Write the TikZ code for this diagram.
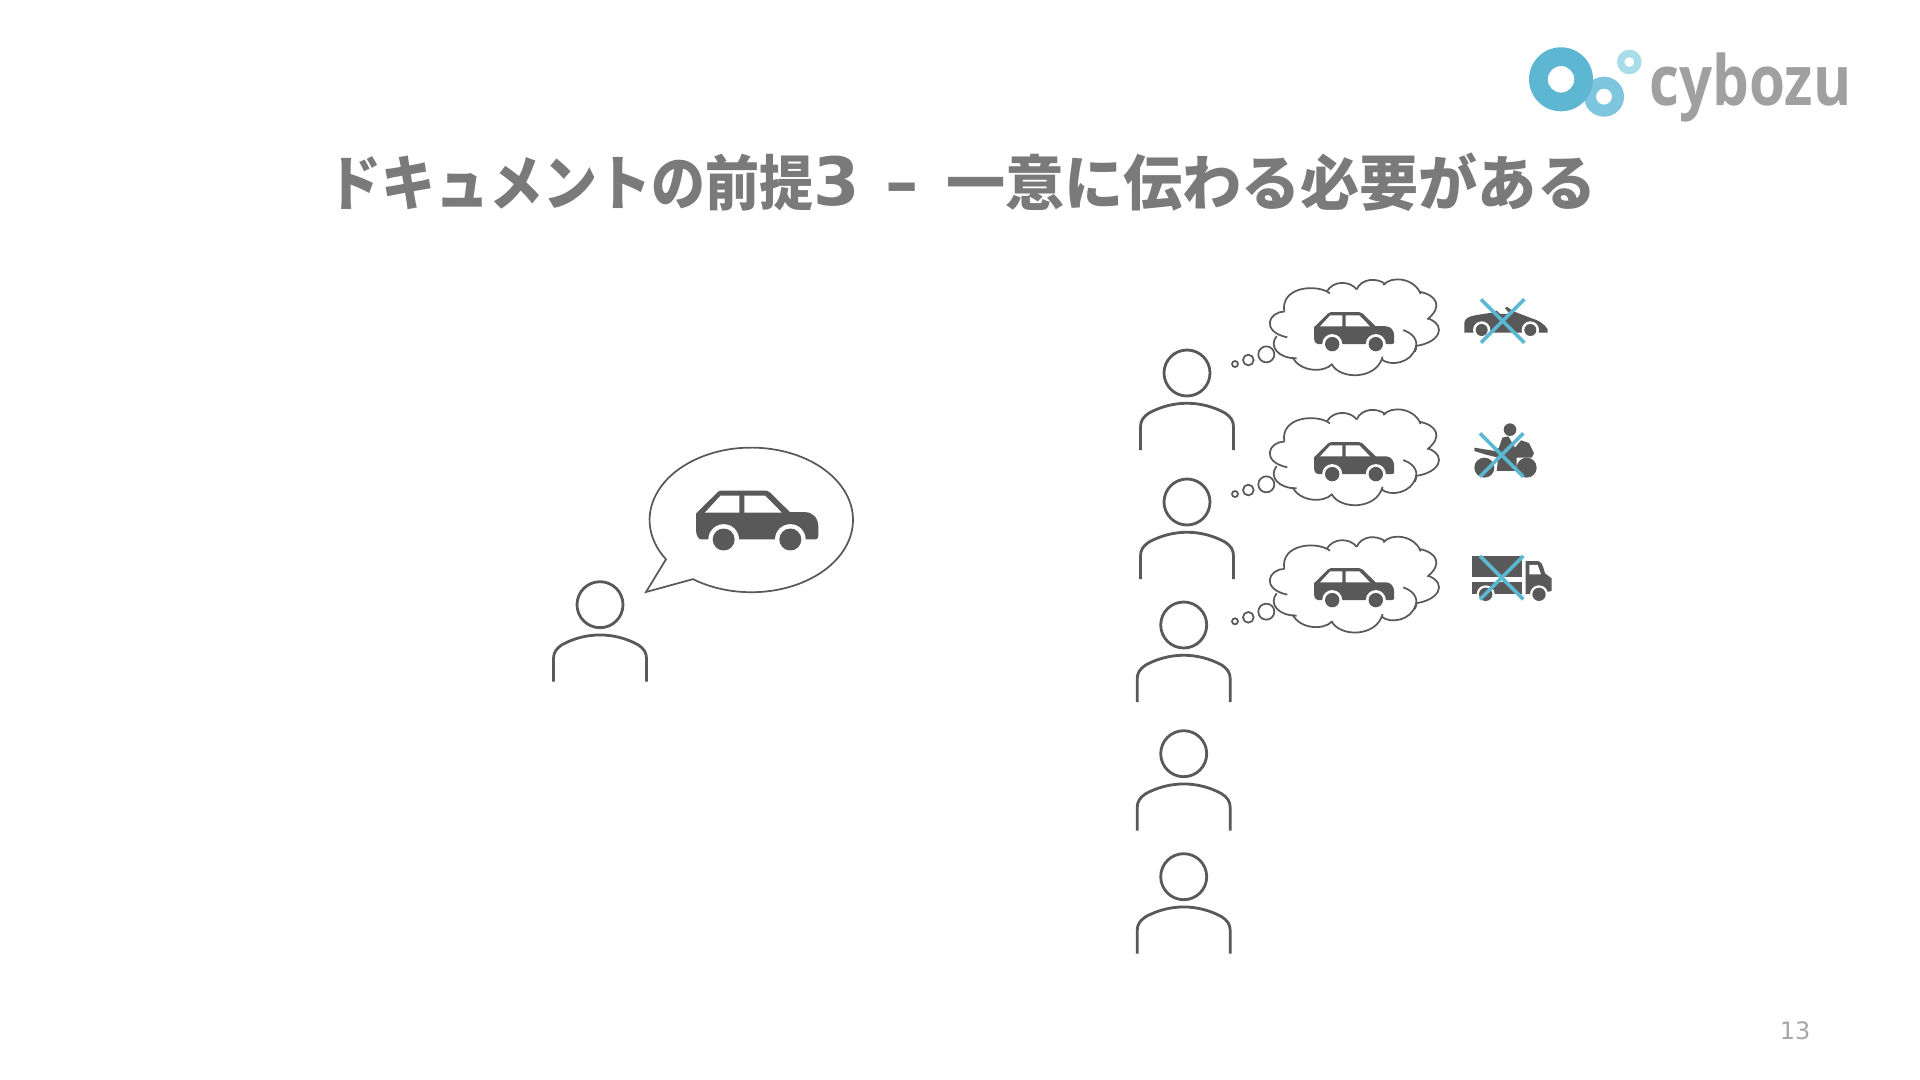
\documentclass[tikz,border=0pt]{standalone}
\usepackage{fontspec}
\newfontfamily\titlefont{Noto Sans CJK JP Black}
\newfontfamily\latinfont{DejaVu Sans Bold}
\newfontfamily\logofont{Open Sans}
\newfontfamily\pagefont{DejaVu Sans}
\definecolor{icongray}{HTML}{595959}
\definecolor{titlegray}{HTML}{7A7A7A}
\definecolor{logogray}{HTML}{A0A0A0}
\definecolor{numgray}{HTML}{A6A6A6}
\definecolor{ringA}{HTML}{5DB7D3}
\definecolor{ringB}{HTML}{7EC5DE}
\definecolor{ringC}{HTML}{A8DCE9}
\definecolor{crossblue}{HTML}{5BB8D2}
\begin{document}
\begin{tikzpicture}[
x=0.75pt, y=-0.75pt,% one unit is one pixel, y runs down
   outline/.style = {draw=icongray, line width=1.3pt},
      cross/.style = {draw=crossblue, line width=2.7pt},
     person/.pic = {
        \draw [draw=icongray, line width=2.1pt] (0,0) circle [radius=23];
        \draw [draw=icongray, line width=2.1pt] (-46.5,77) -- (-46.5,54)
              .. controls (-46.5,48) and (-44,44) .. (-38,40)
              .. controls (-14,27) and (14,27) .. (38,40)
              .. controls (44,44) and (46.5,48) .. (46.5,54) -- (46.5,77);
                   },
        car/.pic = {
        \begin{scope}[shift={(-711,-271)}]
        \fill [icongray] (528,250) -- (592,187) .. controls (596,183) and (600,181) .. (606,181)
              -- (734,181) .. controls (740,181) and (745,183) .. (750,187) -- (810,246)
              -- (855,246) .. controls (880,246) and (895,265) .. (895,290) -- (895,318)
              .. controls (895,325) and (890,328) .. (885,328) -- (545,328)
              .. controls (535,328) and (528,315) .. (528,300) -- cycle;
        \fill [white] (555,247) -- (602,196) -- (658,196) -- (658,247) -- cycle;
        \fill [white] (673,196) -- (735,196) -- (785,247) -- (673,247) -- cycle;
        \foreach \wx in {611,811} {
          \fill [white] (\wx,328) circle [radius=46];
          \fill [icongray] (\wx,328) circle [radius=33];
        }
        \end{scope}
                },
      cloud/.pic = {
        \begin{scope}[scale=0.3333, shift={(-760,-200)}]
        \draw [outline] (553,155) .. controls (505,155) and (482,215) .. (562,232);
        \draw [outline] (530,228) .. controls (505,260) and (535,295) .. (590,295);
        \draw [outline] (578,292) .. controls (600,335) and (670,340) .. (697,312);
        \draw [outline] (695,312) .. controls (720,360) and (830,360) .. (848,290);
        \draw [outline] (845,298) .. controls (870,320) and (935,310) .. (947,262);
        \draw [outline] (910,210) .. controls (950,225) and (955,250) .. (945,275);
        \draw [outline] (945,258) .. controls (1015,250) and (1045,200) .. (985,175);
        \draw [outline] (982,178) .. controls (1030,140) and (1010,105) .. (958,95);
        \draw [outline] (962,102) .. controls (945,55) and (875,45) .. (850,75);
        \draw [outline] (856,72) .. controls (830,52) and (785,55) .. (770,88);
        \draw [outline] (770,88) .. controls (750,62) and (700,60) .. (680,95);
        \draw [outline] (690,100) .. controls (650,70) and (540,80) .. (553,155);
        \draw [outline, fill=white] (499,283) circle [radius=24];
        \draw [outline, fill=white] (445,300) circle [radius=16];
        \draw [outline, fill=white] (405,312) circle [radius=9];
        \end{scope}
                  }
                        ]
\useasboundingbox (0,0) rectangle (1920,1080);
\fill [white] (0,0) rectangle (1920,1080);
% logo
\fill [ringB, even odd rule] (1604,96.7) circle [radius=20] (1604,96.7) circle [radius=8];
\fill [ringA, even odd rule] (1561,79.3) circle [radius=32] (1561,79.3) circle [radius=13.3];
\fill [ringC, even odd rule] (1629.3,62) circle [radius=12.3] (1629.3,62) circle [radius=5];
\node (logo) [anchor=base west, inner sep=0pt, transform shape, xscale=0.84, text=logogray,
              font=\logofont\bfseries\fontsize{52}{60}\selectfont] at (1649,106) {cybozu};
% title
\node (title) [anchor=base west, inner sep=0pt, text=titlegray,
               font=\titlefont\fontsize{45}{54}\selectfont] at (327,206)
               {\scalebox{0.9}[1]{ドキュメントの前提}{\latinfont\fontsize{50}{54}\selectfont 3\hspace{2pt} – \hspace{3pt}}\scalebox{0.985}[1]{一意に伝わる必要がある}};
\node (pagenum) [inner sep=0pt, text=numgray,
                 font=\pagefont\fontsize{18}{22}\selectfont] at (1795,1031) {13};
% people
\foreach \px/\py in {600/604.7, 1187/373, 1187/502, 1183.7/625, 1183.7/753.7, 1183.7/876.7}
  \pic at (\px,\py) {person};
% left side speech bubble
\draw [outline] (646,592) -- (666,559.3)
      arc [start angle=147, end angle=485, x radius=101.7, y radius=72.3] -- cycle;
\pic [scale=0.3333] at (757,520.5) {car};
% thought clouds
\foreach \cy/\ky in {326.7/331.7, 456.7/461.7, 584/587.7} {
  \pic at (1353.3,\cy) {cloud};
  \pic [scale=0.218] at (1354,\ky) {car};
}
% convertible
\begin{scope}[shift={(1455,290)}, scale=0.3333]
\fill [icongray] (28,128) -- (28,98) .. controls (30,85) and (40,80) .. (60,76) -- (110,68)
      -- (125,62) -- (135,72) -- (165,72) -- (150,55) -- (155,50) -- (178,65)
      -- (230,85) .. controls (255,92) and (270,105) .. (278,118) -- (278,128) -- cycle;
\foreach \wx in {80,226} {
  \fill [white] (\wx,120) circle [radius=26];
  \fill [icongray] (\wx,120) circle [radius=18];
}
\draw [cross] (78,28) -- (208,158);
\draw [cross] (208,28) -- (78,158);
\end{scope}
% motorbike
\begin{scope}[shift={(1465,415)}, scale=0.3333]
\fill [icongray] (135,44) circle [radius=19];
\fill [icongray] (28,98) -- (90,108) -- (102,98) -- (112,68) -- (130,64) -- (150,98)
      -- (168,76) -- (192,84) -- (207,115) -- (200,128) -- (155,128) -- (155,168)
      -- (95,168) -- (100,128) -- (60,118) -- (28,108) -- cycle;
\fill [icongray] (58,158) circle [radius=30];
\fill [icongray] (185,158) circle [radius=30];
\draw [cross] (45,55) -- (175,185);
\draw [cross] (175,55) -- (45,185);
\end{scope}
% truck
\begin{scope}[shift={(1465,545)}, scale=0.3333]
\fill [icongray] (20,33) rectangle (172,97);
\fill [icongray] (20,110) rectangle (172,148);
\fill [icongray] (182,148) -- (182,48) -- (215,48) .. controls (228,48) and (232,55) .. (240,85)
      -- (260,100) -- (260,138) -- (240,142) -- cycle;
\fill [white] (193,60) -- (218,60) -- (228,88) -- (193,88) -- cycle;
\foreach \wx in {62,222} {
  \fill [white] (\wx,148) circle [radius=27];
  \fill [icongray] (\wx,148) circle [radius=20];
}
\draw [cross] (45,33) -- (175,163);
\draw [cross] (175,33) -- (45,163);
\end{scope}
\end{tikzpicture}
\end{document}
